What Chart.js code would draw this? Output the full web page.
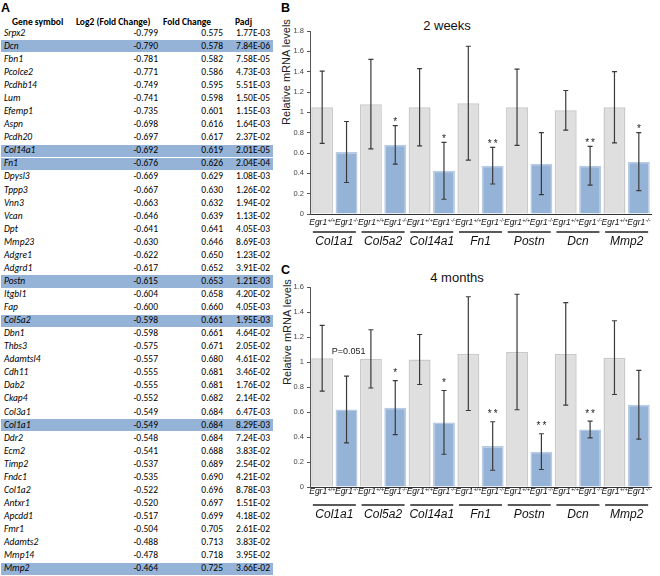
<!DOCTYPE html>
<html><head><meta charset="utf-8">
<script src="https://cdn.jsdelivr.net/npm/chart.js@4.4.1/dist/chart.umd.min.js"></script>
<style>
html,body{margin:0;padding:0;background:#fff;}
#root{position:relative;width:660px;height:576px;overflow:hidden;font-family:"Liberation Sans",Arial,sans-serif;color:#000;}
.abs{position:absolute;white-space:nowrap;}
.tbl{font-family:Carlito,Lato,sans-serif;font-size:9.5px;color:#000;}
.band{position:absolute;background:#95b3d7;}
.hdr{font-weight:bold;}
.rot{position:absolute;white-space:nowrap;transform:translate(-50%,-50%) rotate(-90deg);font-size:11px;color:#222;}
.ttl{position:absolute;white-space:nowrap;transform:translate(-50%,-50%);font-size:13px;color:#111;}
.lett{position:absolute;font-weight:bold;font-size:12.5px;line-height:14px;}
</style></head><body><div id="root"></div>
<script>
// ---------- Panel A table data ----------
const tableGenes = ['Srpx2','Dcn','Fbn1','Pcolce2','Pcdhb14','Lum','Efemp1','Aspn','Pcdh20','Col14a1','Fn1','Dpysl3','Tppp3','Vnn3','Vcan','Dpt','Mmp23','Adgre1','Adgrd1','Postn','Itgbl1','Fap','Col5a2','Dbn1','Thbs3','Adamtsl4','Cdh11','Dab2','Ckap4','Col3a1','Col1a1','Ddr2','Ecm2','Timp2','Fndc1','Col1a2','Antxr1','Apcdd1','Fmr1','Adamts2','Mmp14','Mmp2'];
const tableLog2 = ['-0.799','-0.790','-0.781','-0.771','-0.749','-0.741','-0.735','-0.698','-0.697','-0.692','-0.676','-0.669','-0.667','-0.663','-0.646','-0.641','-0.630','-0.622','-0.617','-0.615','-0.604','-0.600','-0.598','-0.598','-0.575','-0.557','-0.555','-0.555','-0.552','-0.549','-0.549','-0.548','-0.541','-0.537','-0.535','-0.522','-0.520','-0.517','-0.504','-0.488','-0.478','-0.464'];
const tableFold = ['0.575','0.578','0.582','0.586','0.595','0.598','0.601','0.616','0.617','0.619','0.626','0.629','0.630','0.632','0.639','0.641','0.646','0.650','0.652','0.653','0.658','0.660','0.661','0.661','0.671','0.680','0.681','0.681','0.682','0.684','0.684','0.684','0.688','0.689','0.690','0.696','0.697','0.699','0.705','0.713','0.718','0.725'];
const tablePadj = ['1.77E-03','7.84E-06','7.58E-05','4.73E-03','5.51E-03','1.50E-05','1.15E-03','1.64E-03','2.37E-02','2.01E-05','2.04E-04','1.08E-03','1.26E-02','1.94E-02','1.13E-02','4.05E-03','8.69E-03','1.23E-02','3.91E-02','1.21E-03','4.20E-02','4.05E-03','1.95E-03','4.64E-02','2.05E-02','4.61E-02','3.46E-02','1.76E-02','2.14E-02','6.47E-03','8.29E-03','7.24E-03','3.83E-02','2.54E-02','4.21E-02','8.78E-03','1.51E-02','4.18E-02','2.61E-02','3.83E-02','3.95E-02','3.66E-02'];
const tableHeaders = ['Gene symbol','Log2 (Fold Change)','Fold Change','Padj'];
const highlightedGenes = ['Dcn','Col14a1','Fn1','Postn','Col5a2','Col1a1','Mmp2'];

// ---------- Panels B / C qPCR data ----------
const qpcrGenes = ['Col1a1','Col5a2','Col14a1','Fn1','Postn','Dcn','Mmp2'];
const genotypeLabels = ['+/+','-/-'];
const wt2w    = [1.05, 1.08, 1.05, 1.09, 1.05, 1.02, 1.05];
const wt2wErr = [0.355,0.44, 0.38, 0.56, 0.375,0.195,0.35];
const ko2w    = [0.61, 0.68, 0.425,0.475,0.495,0.475,0.515];
const ko2wErr = [0.30, 0.19, 0.28, 0.18, 0.305,0.19, 0.285];
const sig2w   = ['', '*', '*', '**', '', '**', '*'];
const wt4m    = [1.03, 1.025,1.02, 1.067,1.08, 1.065,1.035];
const wt4mErr = [0.263,0.233,0.20, 0.455,0.462,0.41, 0.295];
const ko4m    = [0.62, 0.635,0.517,0.328,0.283,0.46, 0.658];
const ko4mErr = [0.267,0.216,0.255,0.194,0.143,0.067,0.275];
const sig4m   = ['P=0.051', '*', '*', '**', '**', '**', ''];
const yMax2w = 1.8, yMax4m = 1.6, yStep = 0.2;

const root = document.getElementById('root');
function addDiv(cls, html, style){ const d=document.createElement('div'); d.className=cls; d.innerHTML=html; Object.assign(d.style, style||{}); root.appendChild(d); return d; }

// ---------- table ----------
const rowH = 13.06, row0 = 33.3;
const hdrX = [12, 76, 163, 235];
tableHeaders.forEach((h,k)=> addDiv('abs tbl hdr', h, {left:hdrX[k]+'px', top:(22.5-6.5)+'px', lineHeight:'13px'}));
tableGenes.forEach((g,i)=>{
  const yc = row0 + rowH*i;
  if (highlightedGenes.includes(g)) addDiv('band','',{left:'1px', width:'272px', top:(yc-6.1)+'px', height:'12.2px'});
  const top = (yc-6.5)+'px';
  addDiv('abs tbl', '<i>'+g+'</i>', {left:'4px', top, lineHeight:'13px'});
  addDiv('abs tbl', tableLog2[i], {right:(660-158)+'px', top, lineHeight:'13px'});
  addDiv('abs tbl', tableFold[i], {right:(660-223)+'px', top, lineHeight:'13px'});
  addDiv('abs tbl', tablePadj[i], {right:(660-270)+'px', top, lineHeight:'13px'});
});

// ---------- letters and titles ----------
addDiv('lett','A',{left:'1px', top:'1px'});
addDiv('lett','B',{left:'281px', top:'1px'});
addDiv('lett','C',{left:'281px', top:'263px'});
addDiv('ttl','2 weeks',{left:'447px', top:'25px'});
addDiv('ttl','4 months',{left:'457px', top:'277px'});
addDiv('rot','Relative mRNA levels',{left:'286px', top:'72px'});
addDiv('rot','Relative mRNA levels',{left:'287px', top:'332px'});

// ---------- plugin ----------
const annot = {
  id:'annot',
  afterDatasetsDraw(chart){
    const ctx = chart.ctx, ys = chart.scales.y, o = chart.options.plugins.annot;
    ctx.save();
    chart.data.datasets.forEach((ds, di)=>{
      const meta = chart.getDatasetMeta(di);
      meta.data.forEach((bar,i)=>{
        const v = ds.data[i], e = ds.errors[i];
        const t = ys.getPixelForValue(v+e), b = ys.getPixelForValue(v-e);
        ctx.strokeStyle = '#3a3a3a'; ctx.lineWidth = 1.2;
        ctx.beginPath();
        ctx.moveTo(bar.x, t); ctx.lineTo(bar.x, b);
        ctx.moveTo(bar.x-2.5, t); ctx.lineTo(bar.x+2.5, t);
        ctx.moveTo(bar.x-2.5, b); ctx.lineTo(bar.x+2.5, b);
        ctx.stroke();
        const s = ds.sig ? ds.sig[i] : '';
        if (s){
          ctx.fillStyle = '#222'; ctx.textAlign='center'; ctx.textBaseline='alphabetic';
          if (s.length > 2){ ctx.font = '9px "Liberation Sans"'; ctx.fillText(s, bar.x+2, t - o.noteOff); }
          else { ctx.font = '10px "Liberation Sans"'; ctx.fillText(s.split('').join(' ').replace(/ /g,'\u2009'), bar.x, t - o.starOff); }
        }
      });
    });
    ctx.restore();
  },
  afterDraw(chart){
    const ctx = chart.ctx, xs = chart.scales.x, area = chart.chartArea, o = chart.options.plugins.annot;
    ctx.save();
    ctx.fillStyle = '#111'; ctx.textBaseline='alphabetic'; ctx.textAlign='left';
    chart.data.datasets.forEach((ds, di)=>{
      const meta = chart.getDatasetMeta(di);
      meta.data.forEach(bar=>{
        ctx.font = 'italic 8.5px "Liberation Sans"';
        const w1 = ctx.measureText('Egr1').width;
        ctx.font = 'italic 5.5px "Liberation Sans"';
        const w2 = ctx.measureText(genotypeLabels[di]).width;
        const x0 = bar.x - (w1+w2)/2, by = area.bottom + o.egrOff;
        ctx.font = 'italic 8.5px "Liberation Sans"'; ctx.fillText('Egr1', x0, by);
        ctx.font = 'italic 5.5px "Liberation Sans"'; ctx.fillText(genotypeLabels[di], x0+w1+0.3, by-3.5);
      });
    });
    chart.data.labels.forEach((g,i)=>{
      const cx = xs.getPixelForValue(i);
      ctx.strokeStyle = '#5a5a5a'; ctx.lineWidth = 2;
      ctx.beginPath(); ctx.moveTo(cx-21.5, area.bottom+18); ctx.lineTo(cx+21.5, area.bottom+18); ctx.stroke();
      ctx.font = 'italic 12px "Liberation Sans"'; ctx.textAlign='center'; ctx.fillStyle='#111';
      ctx.fillText(g, cx, area.bottom+31);
    });
    ctx.restore();
  }
};

function makeChart(left, top, w, h, padTop, plotBottom, wt, wtErr, ko, koErr, sig, yMax, offs){
  const holder = document.createElement('div');
  holder.style.cssText = `position:absolute;left:${left}px;top:${top}px;width:${w}px;height:${h}px;`;
  const cv = document.createElement('canvas'); cv.width=w; cv.height=h; cv.style.width=w+'px'; cv.style.height=h+'px';
  holder.appendChild(cv); root.appendChild(holder);
  return new Chart(cv, {
    type:'bar',
    data:{ labels: qpcrGenes, datasets:[
      {data: wt, errors: wtErr, backgroundColor:'#dfdfdf', borderColor:'#c9c9c9', borderWidth:1.5, borderSkipped:'start'},
      {data: ko, errors: koErr, sig: sig, backgroundColor:'#95b3d7', borderColor:'#b8cbe4', borderWidth:1.5, borderSkipped:'start'}
    ]},
    options:{
      responsive:false, animation:false, devicePixelRatio:1,
      layout:{padding:{top:padTop, right:9, left:0, bottom:0}},
      datasets:{bar:{categoryPercentage:1.0, barPercentage:0.9}},
      plugins:{legend:{display:false}, tooltip:{enabled:false}, title:{display:false}, annot: offs},
      scales:{
        x:{ grid:{display:false}, ticks:{display:false}, border:{display:true, color:'#333', width:1},
            afterFit(s){ s.height = h - plotBottom; } },
        y:{ min:0, max:yMax, ticks:{stepSize:yStep, font:{size:7.5, family:'"Liberation Sans"'}, color:'#444', padding:3,
              callback:v=>String(Number(v.toFixed(1)))},
            grid:{display:true, drawOnChartArea:false, drawTicks:true, tickLength:3, color:'#555'},
            border:{display:true, color:'#555', width:1},
            afterFit(s){ s.width = 70; } }
      }
    },
    plugins:[annot]
  });
}

makeChart(240, 0, 420, 262, 31, 214, wt2w, wt2wErr, ko2w, ko2wErr, sig2w, yMax2w, {starOff:0.5, noteOff:22, egrOff:11});
makeChart(240, 262, 420, 314, 25, 225, wt4m, wt4mErr, ko4m, ko4mErr, sig4m, yMax4m, {starOff:4.5, noteOff:22, egrOff:7});
</script></body></html>
